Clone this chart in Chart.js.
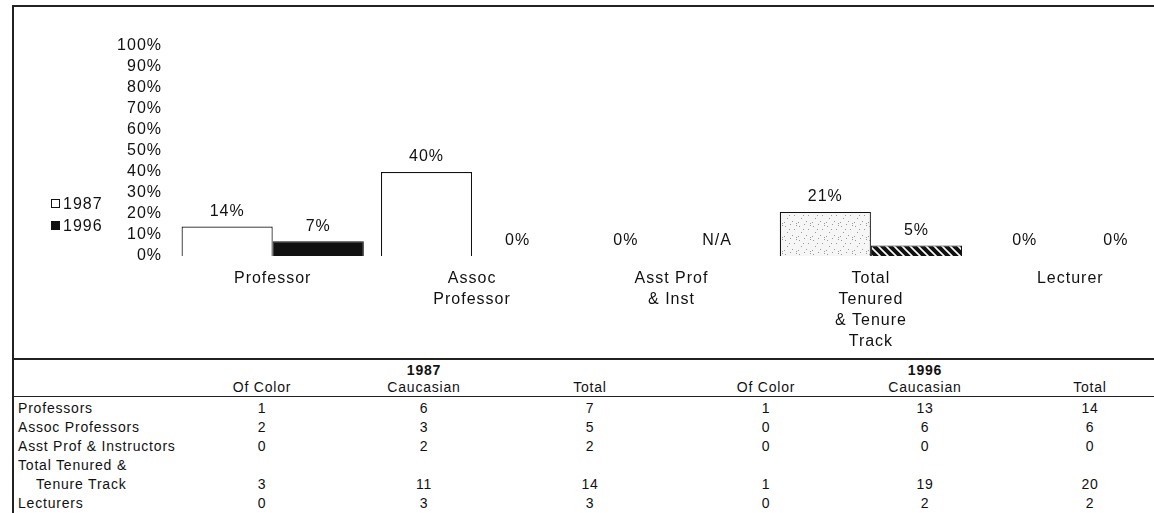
<!DOCTYPE html>
<html>
<head>
<meta charset="utf-8">
<script src="https://cdn.jsdelivr.net/npm/chart.js@4/dist/chart.umd.min.js"></script>
<style>
  html, body { margin: 0; padding: 0; background: #fff; overflow: hidden; }
  #page { position: relative; width: 1154px; height: 513px; overflow: hidden;
          font-family: "Liberation Sans", Arial, sans-serif; color: #111; }
  #wrap { position: absolute; left: 0; top: 0; width: 1172px; height: 358px; }
  .ln { position: absolute; background: #222; }
  .t { position: absolute; white-space: nowrap; font-size: 14px; line-height: 16px; letter-spacing: 0.8px; }
  .c { transform: translate(-50%, -50%); }
  .l { transform: translate(0, -50%); }
  .lg { position: absolute; font-size: 16px; line-height: 18px; letter-spacing: 1px; transform: translate(0, -50%); }
  .sq { display: inline-block; width: 7px; height: 7px; border: 1px solid #111;
        margin-right: 3px; vertical-align: 1px; }
</style>
</head>
<body>
<div id="page">
  <div id="wrap"><canvas id="chart"></canvas></div>
</div>
<script>
// chart data
const categories = [["Professor"], ["Assoc", "Professor"], ["Asst Prof", "& Inst"],
                    ["Total", "Tenured", "& Tenure", "Track"], ["Lecturer"]];
const years = ["1987", "1996"];
const pct1987 = [14, 40, 0, 21, 0];
const pct1996 = [7, 0, null, 5, 0];   // null = N/A

// table data
const rowLabels = ["Professors", "Assoc Professors", "Asst Prof & Instructors",
                   "Total Tenured &|Tenure Track", "Lecturers"];
const colHeads = ["Of Color", "Caucasian", "Total", "Of Color", "Caucasian", "Total"];
const ofColor87 = [1, 2, 0, 3, 0];
const cauc87 = [6, 3, 2, 11, 3];
const total87 = [7, 5, 2, 14, 3];
const ofColor96 = [1, 0, 0, 1, 0];
const cauc96 = [13, 6, 0, 19, 2];
const total96 = [14, 6, 0, 20, 2];

const FONT = '"Liberation Sans", Arial, sans-serif';

function stipple() {
  const c = document.createElement('canvas');
  c.width = 14; c.height = 14;
  const g = c.getContext('2d');
  g.fillStyle = '#f6f6f6';
  g.fillRect(0, 0, 14, 14);
  g.fillStyle = '#999';
  [[1,2],[6,0],[10,5],[3,8],[8,11],[12,13],[0,12],[5,5],[12,1]].forEach(p => g.fillRect(p[0], p[1], 1, 1));
  return g.createPattern(c, 'repeat');
}
function hatch() {
  const c = document.createElement('canvas');
  c.width = 8; c.height = 8;
  const g = c.getContext('2d');
  g.fillStyle = '#111';
  g.fillRect(0, 0, 8, 8);
  g.strokeStyle = '#fff';
  g.lineWidth = 1.6;
  g.beginPath();
  g.moveTo(-2, -2); g.lineTo(10, 10);
  g.moveTo(-6, 2); g.lineTo(2, 10);
  g.moveTo(2, -6); g.lineTo(10, 2);
  g.stroke();
  return g.createPattern(c, 'repeat');
}

// the scan is a bit wide, so space the letters out a little
// (set on every pass, a canvas resize clears it)
const wideText = {
  id: 'wideText',
  beforeUpdate(chart) { chart.ctx.letterSpacing = '1px'; },
  beforeDraw(chart) { chart.ctx.letterSpacing = '1px'; }
};

const valueLabels = {
  id: 'valueLabels',
  afterDatasetsDraw(chart) {
    const ctx = chart.ctx;
    const y0 = chart.scales.y.getPixelForValue(0);
    ctx.save();
    ctx.letterSpacing = '1px';
    ctx.font = '16px ' + FONT;
    ctx.fillStyle = '#111';
    ctx.textAlign = 'center';
    ctx.textBaseline = 'middle';
    chart.data.datasets.forEach((ds, i) => {
      chart.getDatasetMeta(i).data.forEach((el, j) => {
        const v = ds.data[j];
        const txt = v == null ? 'N/A' : v + '%';
        const y = v == null ? y0 : el.y;
        ctx.fillText(txt, el.x, y - 15);
      });
    });
    ctx.restore();
  }
};

new Chart(document.getElementById('chart').getContext('2d'), {
  type: 'bar',
  data: {
    labels: categories,
    datasets: [{
      label: years[0],
      data: pct1987,
      backgroundColor: ['#fff', '#fff', '#fff', stipple(), '#fff'],
      borderColor: '#111',
      borderWidth: 1.2,
      borderSkipped: 'bottom'
    }, {
      label: years[1],
      data: pct1996,
      backgroundColor: ['#111', '#111', '#111', hatch(), '#111'],
      borderColor: '#111',
      borderWidth: 1,
      borderSkipped: 'bottom'
    }]
  },
  options: {
    responsive: true,
    maintainAspectRatio: false,
    animation: false,
    layout: { padding: { top: 46, left: 0, right: 2, bottom: 0 } },
    plugins: { legend: { display: false }, tooltip: { enabled: false } },
    datasets: { bar: { barPercentage: 1, categoryPercentage: 0.914 } },
    scales: {
      x: {
        grid: { display: false, drawTicks: false },
        border: { display: false },
        ticks: { color: '#111', padding: 12, maxRotation: 0, autoSkip: false,
                 font: { family: FONT, size: 16, lineHeight: '21px' } },
        afterFit(s) { s.height = 102; }
      },
      y: {
        min: 0, max: 100,
        grid: { display: false, drawTicks: false },
        border: { display: false },
        ticks: { stepSize: 10, autoSkip: false, color: '#111', padding: 11,
                 font: { family: FONT, size: 16 },
                 callback: v => v + '%' },
        afterFit(s) { s.width = 173; }
      }
    }
  },
  plugins: [wideText, valueLabels]
});

// legend, frame and table as html
const page = document.getElementById('page');
function add(cls, text, x, y, extra) {
  const d = document.createElement('div');
  d.className = cls;
  d.textContent = text;
  d.style.left = x + 'px';
  d.style.top = y + 'px';
  if (extra) Object.assign(d.style, extra);
  page.appendChild(d);
  return d;
}
function line(x, y, w, h) {
  const d = document.createElement('div');
  d.className = 'ln';
  Object.assign(d.style, { left: x + 'px', top: y + 'px', width: w + 'px', height: h + 'px' });
  page.appendChild(d);
}

years.forEach((yr, i) => {
  const d = add('lg', '', 51, [204, 226][i]);
  const sq = document.createElement('span');
  sq.className = 'sq';
  if (i === 1) sq.style.background = '#111';
  d.appendChild(sq);
  d.appendChild(document.createTextNode(yr));
});

line(12, 5, 1142, 1.5);
line(12, 5, 1.5, 508);
line(12, 358, 1142, 1.5);
line(12, 396, 1142, 1.2);

const colX = [262, 424, 590, 766, 925, 1090];
add('t c', years[0], colX[1], 370, { fontWeight: 'bold' });
add('t c', years[1], colX[4], 370, { fontWeight: 'bold' });
colHeads.forEach((h, i) => add('t c', h, colX[i], 387));

const cols = [ofColor87, cauc87, total87, ofColor96, cauc96, total96];
const rowY = [408, 427, 446, 484, 503];
rowLabels.forEach((lab, r) => {
  const parts = lab.split('|');
  if (parts.length > 1) {
    add('t l', parts[0], 18, rowY[r] - 19);
    add('t l', parts[1], 36, rowY[r]);
  } else {
    add('t l', lab, 18, rowY[r]);
  }
  cols.forEach((c, i) => add('t c', String(c[r]), colX[i], rowY[r]));
});
</script>
</body>
</html>
